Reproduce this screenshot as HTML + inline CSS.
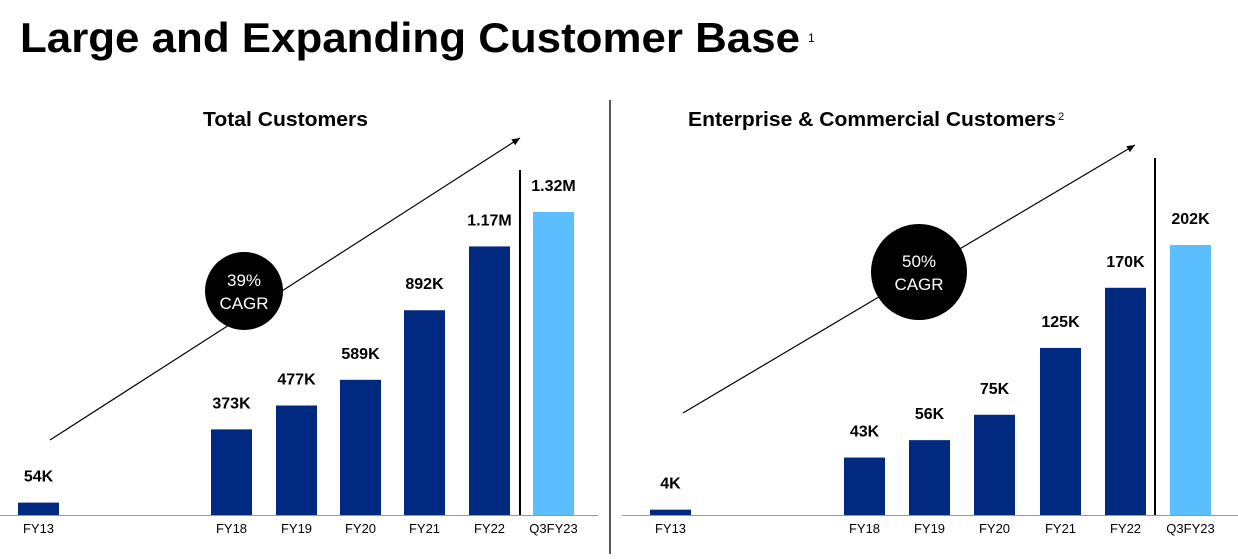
<!DOCTYPE html>
<html><head><meta charset="utf-8"><style>
body{margin:0;background:#fff;width:1238px;height:554px;overflow:hidden;font-family:"Liberation Sans",sans-serif}
</style></head><body>
<svg width="1238" height="554" font-family="Liberation Sans, sans-serif">
<text x="20" y="52" font-size="42" font-weight="bold" fill="#000" textLength="780" lengthAdjust="spacingAndGlyphs">Large and Expanding Customer Base</text>
<text x="808" y="42" font-size="12" fill="#000">1</text>
<line x1="610" y1="100" x2="610" y2="554" stroke="#222" stroke-width="1.5"/>
<g id="charts"></g>
</svg>
<script>
const categories = ["FY13","FY18","FY19","FY20","FY21","FY22","Q3FY23"];
const totalValues = [54,373,477,589,892,1170,1320];
const totalLabels = ["54K","373K","477K","589K","892K","1.17M","1.32M"];
const entValues = [4,43,56,75,125,170,202];
const entLabels = ["4K","43K","56K","75K","125K","170K","202K"];
const NS="http://www.w3.org/2000/svg";
const g=document.getElementById('charts');
function mk(t,a,p){const e=document.createElementNS(NS,t);for(const k in a)e.setAttribute(k,a[k]);(p||g).appendChild(e);return e;}
function panel(cfg){
  const base=515;
  const y=v=>base-v*cfg.scale;
  const ax=mk('line',{x1:cfg.axX0,y1:base+0.5,x2:cfg.axX1,y2:base+0.5,stroke:'#999','stroke-width':1});
  
  
  const t=mk('text',{x:cfg.titleX,y:126,'font-size':20,'font-weight':'bold',fill:'#000',textLength:cfg.titleW,lengthAdjust:'spacingAndGlyphs'});
  t.textContent=cfg.title;
  
  
  if(cfg.sup){const s=mk('text',{x:cfg.supX,y:120,'font-size':11,fill:'#000'});s.textContent=cfg.sup;
    
    }
  const ar=mk('line',{x1:cfg.arrow[0],y1:cfg.arrow[1],x2:cfg.arrow[2],y2:cfg.arrow[3],stroke:'#000','stroke-width':1.2});
  
  
  const dx=cfg.arrow[2]-cfg.arrow[0],dy=cfg.arrow[3]-cfg.arrow[1],L=Math.hypot(dx,dy),ux=dx/L,uy=dy/L;
  const hx=cfg.arrow[2],hy=cfg.arrow[3];
  const ah=mk('polygon',{points:`${hx},${hy} ${hx-8*ux-3.5*uy},${hy-8*uy+3.5*ux} ${hx-8*ux+3.5*uy},${hy-8*uy-3.5*ux}`,fill:'#000'});
  
  
  const vl=mk('line',{x1:cfg.sep,y1:cfg.sepTop,x2:cfg.sep,y2:base,stroke:'#000','stroke-width':2});
  
  
  cfg.values.forEach((v,i)=>{
    const x=cfg.xs[i];
    const r=mk('rect',{x:x,y:y(v),width:41,height:base-y(v),fill:i==6?'#5BBFFF':'#00297F'});
    
    
    const l=mk('text',{x:x+20.5,y:y(v)-21,'font-size':16,'font-weight':'bold','text-anchor':'middle',fill:'#000'});
    l.textContent=cfg.labels[i];
    
    
    const c=mk('text',{x:x+20.5,y:533,'font-size':13,'text-anchor':'middle',fill:'#000'});
    c.textContent=categories[i];
    
    
  });
  const ci=mk('circle',{cx:cfg.circ[0],cy:cfg.circ[1],r:cfg.circ[2],fill:'#000'});
  
  
  const c1=mk('text',{x:cfg.circ[0],y:cfg.circ[1]-5,'font-size':17,'text-anchor':'middle',fill:'#fff'});c1.textContent=cfg.cagr;
  
  
  const c2=mk('text',{x:cfg.circ[0],y:cfg.circ[1]+18,'font-size':17,'text-anchor':'middle',fill:'#fff'});c2.textContent='CAGR';
  
  
}
panel({name:'total-customers',values:totalValues,labels:totalLabels,scale:303/1320,xs:[18,211,276,340,404,469,533],
  axX0:0,axX1:598,title:'Total Customers',titleX:203,titleW:165,arrow:[50,440,520,138],sep:520,sepTop:170,circ:[244,291,39],cagr:'39%'});
panel({name:'enterprise-customers',values:entValues,labels:entLabels,scale:270/202,xs:[650,844,909,974,1040,1105,1170],
  axX0:622,axX1:1238,title:'Enterprise & Commercial Customers',titleX:688,titleW:368,sup:'2',supX:1058,arrow:[683,413,1135,145],sep:1155,sepTop:158,circ:[919,272,48],cagr:'50%'});
</script>
</body></html>
